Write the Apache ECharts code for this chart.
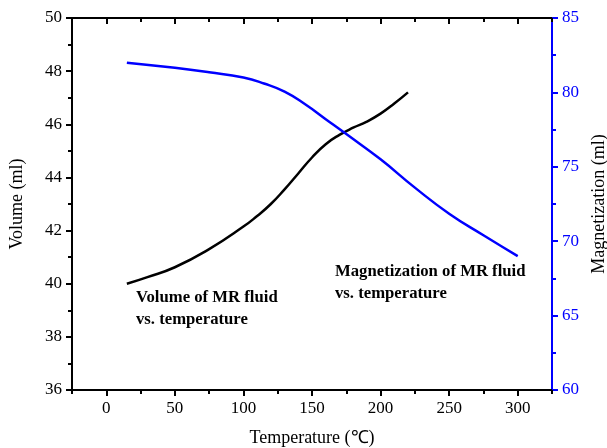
<!DOCTYPE html>
<html>
<head>
<meta charset="utf-8">
<script src="https://cdn.jsdelivr.net/npm/echarts@6/dist/echarts.min.js"></script>
<style>
html,body{margin:0;padding:0;background:#fff;}
#c{width:607px;height:448px;}
</style>
</head>
<body>
<div id="c"></div>
<script>
// Data
var volTemps = [15, 30, 50, 75, 100, 110, 120, 130, 140, 150, 160, 170, 180, 190, 200, 210, 220];
var volValues = [40.0, 40.25, 40.62, 41.3, 42.15, 42.55, 43.0, 43.55, 44.15, 44.75, 45.25, 45.6, 45.87, 46.1, 46.4, 46.78, 47.2];
var magTemps = [15, 50, 75, 100, 115, 130, 145, 160, 175, 200, 225, 250, 275, 300];
var magValues = [82.0, 81.65, 81.35, 81.0, 80.6, 80.05, 79.2, 78.2, 77.2, 75.5, 73.6, 71.85, 70.4, 69.0];
var xMajorTicks = [0, 50, 100, 150, 200, 250, 300];
var xMinorTicks = [-25, 25, 75, 125, 175, 225, 275, 325];
var volAnnot = ['Volume of MR fluid', 'vs. temperature'];
var magAnnot = ['Magnetization of MR fluid', 'vs. temperature'];

var FONT = '"Liberation Serif", "Times New Roman", serif';
var chart = echarts.init(document.getElementById('c'));

function pairs(xs, ys) { return xs.map(function (x, i) { return [x, ys[i]]; }); }

var blackLine = { show: true, onZero: false, lineStyle: { color: '#000', width: 2 } };
var xBase = { type: 'value', min: -25, max: 325, gridIndex: 0, splitLine: { show: false } };

var option = {
  animation: false,
  backgroundColor: '#fff',
  grid: { left: 72, right: 55, top: 18, bottom: 58, containLabel: false, outerBoundsMode: 'none' },
  xAxis: [
    Object.assign({}, xBase, {
      position: 'bottom',
      name: 'Temperature (℃)', nameLocation: 'middle', nameGap: 39,
      nameTextStyle: { fontFamily: FONT, fontSize: 18, color: '#000' },
      axisLine: blackLine,
      axisTick: { show: true, inside: false, length: 6, customValues: xMajorTicks, lineStyle: { color: '#000', width: 2 } },
      axisLabel: { show: true, customValues: xMajorTicks, margin: 10, fontFamily: FONT, fontSize: 17, color: '#000' }
    }),
    Object.assign({}, xBase, {
      position: 'bottom',
      axisLine: { show: false, onZero: false },
      axisTick: { show: true, inside: false, length: 4, customValues: xMinorTicks, lineStyle: { color: '#000', width: 2 } },
      axisLabel: { show: false }
    }),
    Object.assign({}, xBase, {
      position: 'top',
      axisLine: blackLine,
      axisTick: { show: true, inside: true, length: 6, customValues: xMajorTicks, lineStyle: { color: '#000', width: 2 } },
      axisLabel: { show: false }
    }),
    Object.assign({}, xBase, {
      position: 'top',
      axisLine: { show: false, onZero: false },
      axisTick: { show: true, inside: true, length: 4, customValues: xMinorTicks, lineStyle: { color: '#000', width: 2 } },
      axisLabel: { show: false }
    })
  ],
  yAxis: [
    {
      type: 'value', position: 'left', min: 36, max: 50, interval: 2,
      name: 'Volume (ml)', nameLocation: 'middle', nameGap: 46,
      nameTextStyle: { fontFamily: FONT, fontSize: 18, color: '#000' },
      axisLine: blackLine,
      axisTick: { show: true, inside: false, length: 6, lineStyle: { color: '#000', width: 2 } },
      minorTick: { show: true, splitNumber: 2, length: 4, lineStyle: { color: '#000', width: 2 } },
      axisLabel: { margin: 10, fontFamily: FONT, fontSize: 17, color: '#000' },
      splitLine: { show: false }
    },
    {
      type: 'value', position: 'right', min: 60, max: 85, interval: 5,
      name: 'Magnetization (ml)', nameLocation: 'middle', nameGap: 37,
      nameTextStyle: { fontFamily: FONT, fontSize: 18, color: '#000' },
      axisLine: { show: true, onZero: false, lineStyle: { color: '#0000ff', width: 2 } },
      axisTick: { show: true, inside: false, length: 6, lineStyle: { color: '#0000ff', width: 2 } },
      minorTick: { show: true, splitNumber: 2, length: 4, lineStyle: { color: '#0000ff', width: 2 } },
      axisLabel: { margin: 10, fontFamily: FONT, fontSize: 17, color: '#0000ff' },
      splitLine: { show: false }
    }
  ],
  series: [
    {
      name: 'Volume', type: 'line', xAxisIndex: 0, yAxisIndex: 0,
      data: pairs(volTemps, volValues), smooth: 0.5, showSymbol: false,
      lineStyle: { color: '#000', width: 2.5 }, itemStyle: { color: '#000' }
    },
    {
      name: 'Magnetization', type: 'line', xAxisIndex: 0, yAxisIndex: 1,
      data: pairs(magTemps, magValues), smooth: 0.5, showSymbol: false,
      lineStyle: { color: '#0000ff', width: 2.5 }, itemStyle: { color: '#0000ff' }
    }
  ],
  graphic: [
    { type: 'text', left: 136, top: 286, style: { text: volAnnot.join('\n'), font: 'bold 16.7px ' + FONT, fill: '#000', lineHeight: 22.5 } },
    { type: 'text', left: 335, top: 260, style: { text: magAnnot.join('\n'), font: 'bold 16.7px ' + FONT, fill: '#000', lineHeight: 22.5 } }
  ]
};
chart.setOption(option);
</script>
</body>
</html>
